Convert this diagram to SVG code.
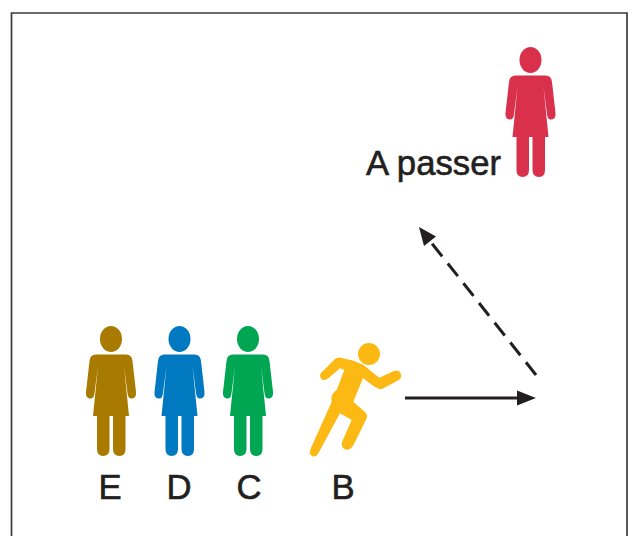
<svg xmlns="http://www.w3.org/2000/svg" width="632" height="536" viewBox="0 0 632 536">
<style>
text{font-family:"Liberation Sans",Arial,sans-serif;font-size:34.700px;fill:#231f20;stroke:#231f20;stroke-width:.6;text-anchor:middle}
.ln{stroke:#231f20;stroke-width:3;fill:none}
.hd{fill:#231f20}
</style>
<defs>
<g id="person">
<ellipse cx="0" cy="60" rx="11" ry="13"/>
<path d="M-15 75.500H15Q21 75.500 21.500 82L25 113Q25.500 119 21 119.500Q17 120 16.500 114L13 87L18 137H14.500V170Q14.500 177 8.500 177Q2 177 2 170V137H-1.500V170Q-1.500 177 -8 177Q-14 177 -14 170V137H-18L-13 87L-16.500 114Q-17 120 -21 119.500Q-25.500 119 -25 113L-21.500 82Q-21 75.500 -15 75.500Z"/>
</g>
</defs>
<rect width="632" height="536" fill="#fff"/>
<path d="M11.500 536V13H627V536" fill="none" stroke="#3a3a3c" stroke-width="1.700"/>
<g id="connectors">
<line class="ln" x1="405" y1="398" x2="520" y2="398"/>
<polygon class="hd" points="536,398 517,390.500 517,405.500"/>
<line class="ln" x1="536" y1="375" x2="430" y2="241" stroke-dasharray="16.200 9"/>
<polygon class="hd" points="419,227 424,246 436,236.500"/>
</g>
<g id="node-a" fill="#d9304c"><use href="#person" x="530.500"/></g>
<g id="label-a"><text x="433.500" y="175">A passer</text></g>
<g id="node-e" fill="#a97a00"><use href="#person" x="111" y="279"/><text x="110" y="499">E</text></g>
<g id="node-d" fill="#0079c1"><use href="#person" x="179.500" y="279"/><text x="179" y="499">D</text></g>
<g id="node-c" fill="#00a651"><use href="#person" x="248" y="279"/><text x="249" y="499">C</text></g>
<g id="node-b">
<circle cx="369" cy="354" r="11" fill="#fdb913"/>
<path fill="#fdb913" d="M321 373L335 359Q338 356.500 342 358L353.500 360.700L363.500 365L379.300 377.700L394 371Q399 369 401 374Q402 378 398 380.500L382 389Q379 390 372 385L363 378L353.300 401.700L365 412Q368 415 366.700 418.300L353.500 445Q350 451 345 449.300Q340.500 447 342 442L351.700 420L340 413.300L319 452Q316 458 312 456Q308.500 454 310.500 449L331.700 401.700Q330 394 336.700 390L344.300 370L340 368.300L328 378.500Q324 381 321.500 379Q319 376 321 373Z"/>
<text x="343" y="499">B</text>
</g>
</svg>
